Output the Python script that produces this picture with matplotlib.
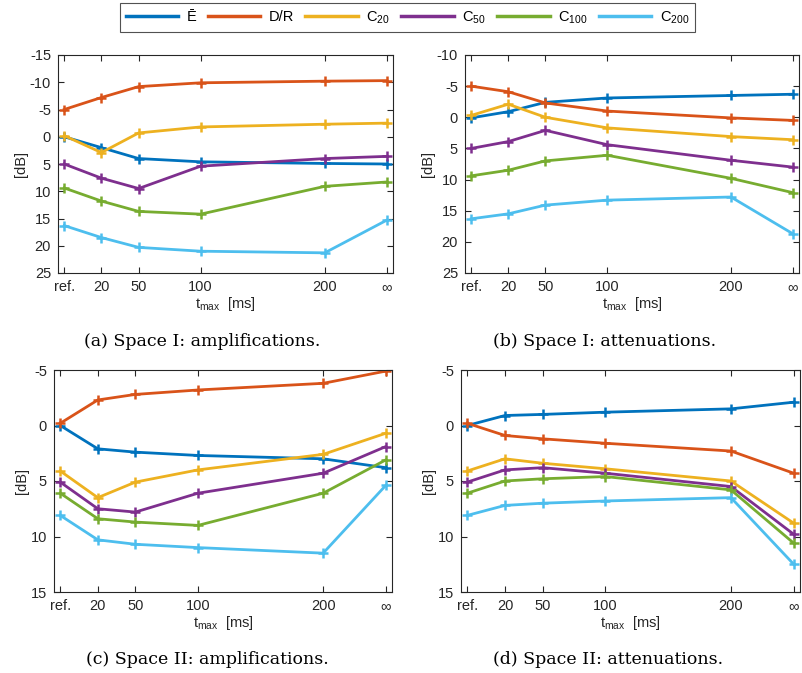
import matplotlib
matplotlib.use('Agg')
import matplotlib.pyplot as plt

plt.rcParams['font.family'] = ['Liberation Sans', 'DejaVu Sans']
plt.rcParams['mathtext.default'] = 'regular'
plt.rcParams['axes.unicode_minus'] = False

# ---------------- data ----------------
x_labels = ['ref.', '20', '50', '100', '200', '∞']
x_pos = [-10, 20, 50, 100, 200, 250]

series_names = ['Ē', 'D/R', 'C$_{20}$', 'C$_{50}$', 'C$_{100}$', 'C$_{200}$']
series_colors = ['#0072BD', '#D95319', '#EDB120', '#7E2F8E', '#77AC30', '#4DBEEE']

# (a) Space I: amplifications
a_E    = [0.0, 2.0, 4.0, 4.6, 4.9, 5.0]
a_DR   = [-5.0, -7.2, -9.2, -9.9, -10.2, -10.3]
a_C20  = [-0.2, 2.9, -0.7, -1.8, -2.3, -2.5]
a_C50  = [5.0, 7.6, 9.5, 5.4, 4.0, 3.6]
a_C100 = [9.4, 11.8, 13.7, 14.2, 9.1, 8.3]
a_C200 = [16.3, 18.5, 20.3, 21.0, 21.3, 15.3]

# (b) Space I: attenuations
b_E    = [0.1, -0.9, -2.4, -3.1, -3.5, -3.7]
b_DR   = [-5.0, -4.1, -2.3, -1.0, 0.1, 0.5]
b_C20  = [-0.3, -2.1, 0.0, 1.7, 3.1, 3.6]
b_C50  = [5.0, 3.9, 2.1, 4.4, 6.9, 8.0]
b_C100 = [9.4, 8.5, 7.0, 6.1, 9.8, 12.1]
b_C200 = [16.3, 15.5, 14.1, 13.3, 12.8, 18.7]

# (c) Space II: amplifications
c_E    = [0.0, 2.1, 2.4, 2.7, 3.0, 3.8]
c_DR   = [-0.2, -2.3, -2.8, -3.2, -3.8, -4.9]
c_C20  = [4.1, 6.5, 5.1, 4.0, 2.6, 0.7]
c_C50  = [5.1, 7.5, 7.8, 6.1, 4.3, 1.9]
c_C100 = [6.1, 8.4, 8.7, 9.0, 6.1, 3.1]
c_C200 = [8.1, 10.3, 10.7, 11.0, 11.5, 5.4]

# (d) Space II: attenuations
d_E    = [0.0, -0.9, -1.0, -1.2, -1.5, -2.1]
d_DR   = [-0.2, 0.9, 1.2, 1.6, 2.3, 4.3]
d_C20  = [4.1, 3.0, 3.4, 3.9, 5.0, 8.8]
d_C50  = [5.1, 4.0, 3.8, 4.3, 5.5, 9.8]
d_C100 = [6.1, 5.0, 4.8, 4.6, 5.8, 10.6]
d_C200 = [8.1, 7.2, 7.0, 6.8, 6.5, 12.5]

panels = [
    dict(data=[a_E, a_DR, a_C20, a_C50, a_C100, a_C200], ylim=(-15, 25),
         caption='(a) Space I: amplifications.'),
    dict(data=[b_E, b_DR, b_C20, b_C50, b_C100, b_C200], ylim=(-10, 25),
         caption='(b) Space I: attenuations.'),
    dict(data=[c_E, c_DR, c_C20, c_C50, c_C100, c_C200], ylim=(-5, 15),
         caption='(c) Space II: amplifications.'),
    dict(data=[d_E, d_DR, d_C20, d_C50, d_C100, d_C200], ylim=(-5, 15),
         caption='(d) Space II: attenuations.'),
]

# ---------------- layout (pixels) ----------------
W, H = 803, 673
boxes = [(58, 393, 55, 273), (465, 799, 55, 273),
         (54, 392, 370, 592), (461, 800, 370, 592)]
caption_pos = [(202, 341), (605, 341), (207, 659), (608, 659)]

fig = plt.figure(figsize=(W / 100, H / 100), dpi=100)
axis_col = '#262626'

handles = []
for i, (p, (l, r, t, b)) in enumerate(zip(panels, boxes)):
    ax = fig.add_axes([l / W, 1 - b / H, (r - l) / W, (b - t) / H])
    for k, (vals, name, col) in enumerate(zip(p['data'], series_names, series_colors)):
        ln, = ax.plot(x_pos, vals, color=col, lw=2.0, marker='+', ms=7, mew=1.8,
                      label=name)
        if i == 0:
            handles.append(ln)
    y0, y1 = p['ylim']
    ax.set_ylim(y1, y0)
    ax.set_xlim(-15, 255)
    ax.set_yticks(list(range(y0, y1 + 1, 5)))
    ax.set_xticks(x_pos)
    ax.set_xticklabels(x_labels)
    ax.tick_params(direction='in', length=4, width=0.8, top=True, right=True,
                   labelsize=10.5, colors=axis_col, pad=5)
    for s in ax.spines.values():
        s.set_color(axis_col)
        s.set_linewidth(0.8)
    ax.set_xlabel('t$_{max}$  [ms]', fontsize=10.5, color=axis_col, labelpad=1)
    ax.set_ylabel('[dB]', fontsize=10.5, color=axis_col, labelpad=1)
    cx, cy = caption_pos[i]
    fig.text(cx / W, 1 - cy / H, p['caption'], ha='center', va='center',
             fontsize=12.5, family='DejaVu Serif', color='black')

leg = fig.legend(handles=handles, loc='center', bbox_to_anchor=(407.5 / W, 1 - 17.5 / H),
                 ncol=6, fontsize=10.5, handlelength=3.6, handletextpad=0.6,
                 columnspacing=0.75, frameon=True, fancybox=False, borderpad=0.4)
leg.get_frame().set_edgecolor(axis_col)
leg.get_frame().set_linewidth(0.8)
for h in leg.legend_handles:
    h.set_marker('')
    h.set_linewidth(2.5)

fig.savefig('out.png', dpi=100)
